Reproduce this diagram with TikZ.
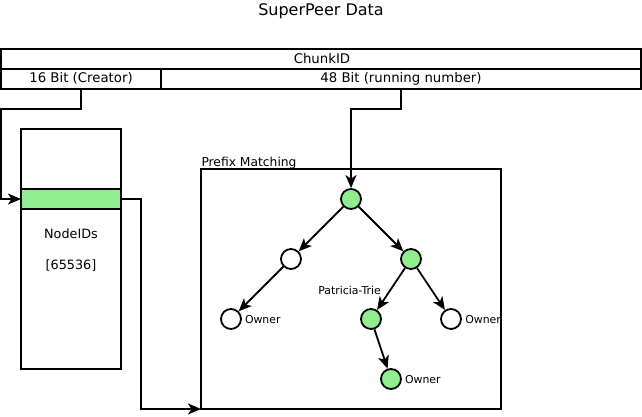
\documentclass[tikz,border=0pt]{standalone}
\usepackage{fontspec}
\setmainfont{DejaVu Sans}
\usetikzlibrary{arrows.meta}
\definecolor{lgreen}{RGB}{144,238,144}
\begin{document}
\begin{tikzpicture}[x=1pt,y=-1pt,
  line width=1.8pt,
  box/.style={draw, line width=1.8pt, inner sep=0pt, outer sep=0pt, anchor=north west},
  lbl/.style={anchor=base, inner sep=0pt, outer sep=0pt},
  circ/.style={circle, draw, line width=1.8pt, minimum size=20pt, inner sep=0pt},
  gcirc/.style={circ, fill=lgreen},
  wcirc/.style={circ, fill=white},
  arr/.style={-{Stealth[length=13pt,width=11pt,inset=3.5pt]}, line width=1.8pt},
  fbig/.style={font=\fontsize{16}{19}\selectfont},
  fmid/.style={font=\fontsize{13.3}{16}\selectfont},
  fids/.style={font=\fontsize{12.8}{15}\selectfont},
  fpre/.style={font=\fontsize{12.3}{15}\selectfont},
  fsmall/.style={font=\fontsize{10.9}{13}\selectfont}
]
\useasboundingbox (0,0) rectangle (642,416);

% title
\node[lbl, fbig] (title) at (321,15) {SuperPeer Data};

% ChunkID table
\node[box, minimum width=640pt, minimum height=20pt] (chunk) at (1,49) {};
\node[box, minimum width=160pt, minimum height=20pt] (creator) at (1,69) {};
\node[box, minimum width=480pt, minimum height=20pt] (running) at (161,69) {};
\node[lbl, fmid] (chunklbl) at (322,63.5) {ChunkID};
\node[lbl, fmid] (creatorlbl) at (81,82) {16 Bit (Creator)};
\node[lbl, fmid] (runninglbl) at (401,82) {48 Bit (running number)};

% NodeIDs array
\node[box, minimum width=100pt, minimum height=240pt] (ids) at (21,129) {};
\node[box, fill=lgreen, minimum width=100pt, minimum height=20pt] (slot) at (21,189) {};
\node[lbl, fids] (idslbl) at (71,238) {NodeIDs};
\node[lbl, fids] (sizelbl) at (71,269.5) {[65536]};

% Prefix matching box
\node[box, minimum width=300pt, minimum height=240pt] (prefix) at (201,169) {};
\node[lbl, fpre, anchor=base west] (prefixlbl) at (201.5,166) {Prefix Matching};

% trie
\node[gcirc] (n1) at (351,199) {};
\node[wcirc] (n2) at (291,259) {};
\node[gcirc] (n3) at (411,259) {};
\node[wcirc] (n4) at (231,319) {};
\node[gcirc] (n5) at (371,319) {};
\node[wcirc] (n6) at (451,319) {};
\node[gcirc] (n7) at (391,379) {};

\draw[arr] (n1) -- (n2);
\draw[arr] (n1) -- (n3);
\draw[arr] (n2) -- (n4);
\draw[arr] (n3) -- (n5);
\draw[arr] (n3) -- (n6);
\draw[arr] (n5) -- (n7);

\node[lbl, fsmall, anchor=base west] (own1) at (245,323.3) {Owner};
\node[lbl, fsmall, anchor=base west] (own2) at (465.3,323.3) {Owner};
\node[lbl, fsmall, anchor=base west] (own3) at (405,383.3) {Owner};
\node[lbl, fsmall, anchor=base west] (pat) at (318.3,294) {Patricia-Trie};

% connectors
\draw[arr] (creator.south) |- (1,109) |- (slot.west);
\draw[arr] (running.south) |- (351,109) -- (n1.north);
\draw[arr] (slot.east) -| (141,409) -- (prefix.south west);
\end{tikzpicture}
\end{document}
